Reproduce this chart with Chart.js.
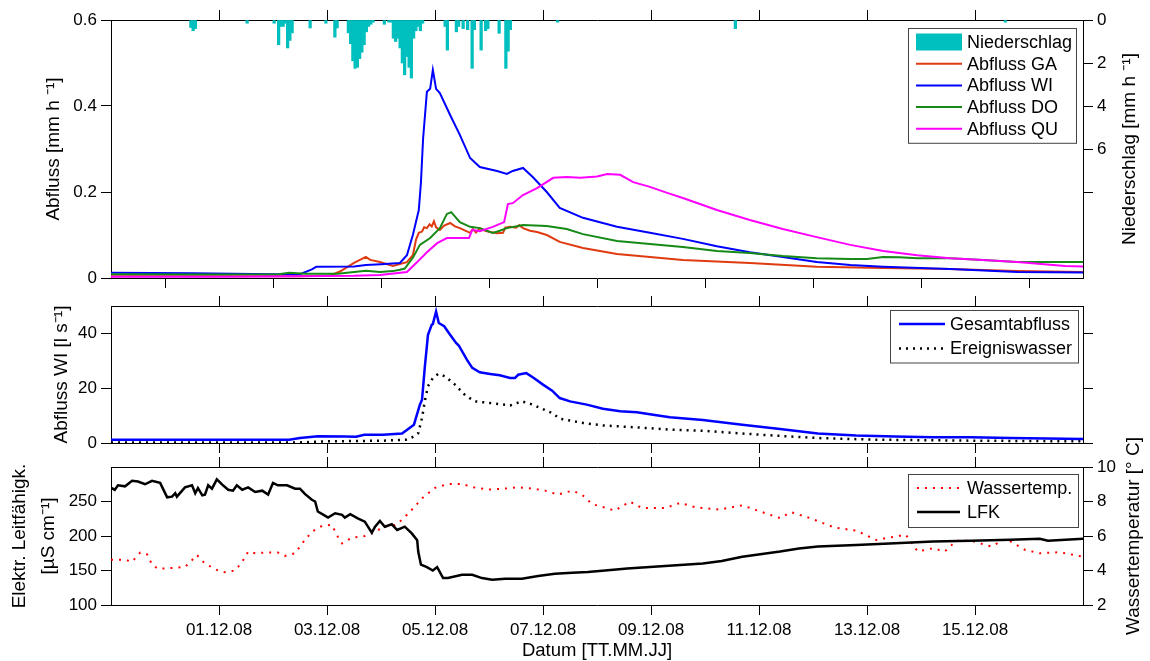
<!DOCTYPE html>
<html>
<head>
<meta charset="utf-8">
<title>Abfluss, Niederschlag und LFK</title>
<script src="https://cdn.jsdelivr.net/npm/chart.js@4.4.0/dist/chart.umd.min.js"></script>
<style>
  html, body { margin: 0; padding: 0; background: #fff; }
  #wrap { position: relative; width: 1150px; height: 661px; }
  #wrap canvas { position: absolute; left: 0; top: 0; }
</style>
</head>
<body>
<div id="wrap">
  <canvas id="abfluss" width="1150" height="661"></canvas>
  <canvas id="wi" width="1150" height="661"></canvas>
  <canvas id="lfk" width="1150" height="661"></canvas>
</div>
<script>
// time axis: days since 29.11.08 00:00
const dateTicks = [2, 4, 6, 8, 10, 12, 14, 16];
const dateLabels = ['01.12.08', '03.12.08', '05.12.08', '07.12.08', '09.12.08', '11.12.08', '13.12.08', '15.12.08'];

// precipitation, hourly [mm/h] (hours since start)
const rainHours = [35, 36, 37, 60, 72, 74, 75, 76, 77, 78, 79, 80, 88, 95, 99, 100, 105, 106, 107, 108,
  109, 110, 111, 112, 113, 114, 115, 116, 121, 123, 124, 125, 126, 127, 128, 129, 130, 131, 132, 133,
  134, 135, 136, 137, 138, 148, 149, 153, 154, 156, 158, 160, 161, 164, 166, 167, 172, 175, 176, 177,
  198, 277, 397];
const rainValues = [0.35, 0.5, 0.4, 0.15, 0.15, 1.15, 0.3, 0.3, 0.15, 1.3, 0.95, 0.6, 0.37, 0.15, 0.8, 0.37, 0.6, 1.1, 1.9, 2.25,
  2.2, 1.8, 1.5, 1.15, 0.55, 0.3, 0.2, 0.1, 0.2, 0.1, 0.1, 0.85, 1.0, 0.85, 1.3, 2.0, 2.55, 1.7, 2.2, 2.7,
  0.85, 0.5, 0.3, 0.5, 0.15, 0.3, 1.4, 0.55, 0.3, 0.4, 0.45, 2.25, 0.45, 1.4, 0.5, 0.4, 0.62, 2.25, 1.45, 0.45,
  0.1, 0.4, 0.1];

// specific discharge [mm/h]
const gaDays = [0, 2.0, 3.5, 4.06, 4.24, 4.5, 4.72, 4.8, 4.98, 5.22, 5.48, 5.59, 5.65, 5.70, 5.76, 5.80, 5.85, 5.90, 5.94, 5.98,
  6.02, 6.09, 6.17, 6.28, 6.37, 6.46, 6.56, 6.65, 6.70, 6.76, 6.83, 6.93, 7.02, 7.15, 7.26, 7.30, 7.39, 7.50, 7.56, 7.63,
  7.76, 7.89, 8.07, 8.31, 8.74, 9.37, 9.98, 10.59, 11.83, 13.07, 14.30, 15.54, 16.78, 18];
const gaValues = [0.004, 0.004, 0.004, 0.006, 0.015, 0.035, 0.049, 0.042, 0.037, 0.028, 0.037, 0.053, 0.09, 0.105, 0.108, 0.118, 0.116, 0.125, 0.12, 0.132,
  0.118, 0.112, 0.122, 0.128, 0.12, 0.116, 0.11, 0.105, 0.114, 0.106, 0.116, 0.11, 0.107, 0.104, 0.105, 0.117, 0.119, 0.117, 0.123, 0.116,
  0.11, 0.107, 0.10, 0.084, 0.07, 0.056, 0.049, 0.042, 0.035, 0.026, 0.023, 0.021, 0.016, 0.014];

const wiDays = [0, 1.5, 3.0, 3.5, 3.72, 3.8, 4.5, 4.72, 5.0, 5.35, 5.48, 5.59, 5.70, 5.74, 5.78, 5.85, 5.91, 5.96, 6.02, 6.09,
  6.28, 6.46, 6.65, 6.83, 7.15, 7.33, 7.44, 7.63, 7.81, 8.07, 8.31, 8.74, 9.37, 9.98, 10.59, 11.22, 11.83, 12.44, 13.07, 13.69,
  14.30, 15.54, 16.78, 18];
const wiValues = [0.012, 0.011, 0.009, 0.009, 0.02, 0.026, 0.027, 0.03, 0.032, 0.035, 0.053, 0.10, 0.158, 0.223, 0.325, 0.433, 0.44, 0.484, 0.44, 0.43,
  0.379, 0.333, 0.279, 0.258, 0.249, 0.242, 0.249, 0.256, 0.235, 0.2, 0.163, 0.14, 0.119, 0.105, 0.091, 0.074, 0.06, 0.049, 0.037, 0.03,
  0.026, 0.021, 0.014, 0.013];

const doDays = [0, 2.0, 3.1, 3.3, 3.6, 4.2, 4.72, 4.98, 5.22, 5.35, 5.44, 5.59, 5.72, 5.91, 6.09, 6.22, 6.3, 6.46, 6.65, 6.83,
  7.07, 7.20, 7.33, 7.63, 8.07, 8.44, 8.74, 9.37, 9.98, 10.59, 11.22, 11.83, 12.44, 13.07, 13.69, 14.0, 14.30, 14.6, 14.93, 15.54,
  16.15, 16.78, 18];
const doValues = [0.009, 0.008, 0.009, 0.012, 0.01, 0.01, 0.017, 0.014, 0.016, 0.019, 0.022, 0.047, 0.077, 0.093, 0.116, 0.149, 0.153, 0.13, 0.119, 0.116,
  0.105, 0.11, 0.116, 0.123, 0.121, 0.114, 0.102, 0.086, 0.079, 0.072, 0.063, 0.058, 0.051, 0.046, 0.044, 0.044, 0.049, 0.048, 0.046, 0.046,
  0.042, 0.037, 0.037];

const quDays = [0, 2.0, 3.5, 4.5, 4.98, 5.48, 5.67, 5.85, 6.04, 6.22, 6.46, 6.63, 6.69, 6.83, 7.07, 7.28, 7.35, 7.44, 7.63, 7.89,
  8.19, 8.44, 8.69, 9.0, 9.19, 9.43, 9.67, 9.98, 10.30, 10.59, 11.22, 11.83, 12.44, 13.07, 13.69, 14.30, 14.93, 15.54, 16.15, 16.78,
  17.67, 18];
const quValues = [0.003, 0.003, 0.004, 0.005, 0.007, 0.014, 0.037, 0.06, 0.081, 0.093, 0.093, 0.093, 0.112, 0.109, 0.119, 0.13, 0.172, 0.174, 0.193, 0.209,
  0.233, 0.235, 0.233, 0.236, 0.242, 0.24, 0.223, 0.212, 0.198, 0.186, 0.158, 0.135, 0.114, 0.095, 0.077, 0.063, 0.053, 0.046, 0.042, 0.037,
  0.028, 0.027];

// WI discharge [l/s]
const gesamtDays = [0, 3.3, 3.5, 3.83, 4.33, 4.54, 4.69, 5.04, 5.39, 5.61, 5.72, 5.76, 5.81, 5.87, 5.94, 5.96, 6.02, 6.07, 6.17, 6.28,
  6.39, 6.44, 6.59, 6.69, 6.83, 7.02, 7.20, 7.39, 7.48, 7.54, 7.69, 7.81, 8.0, 8.17, 8.31, 8.5, 8.81, 9.11, 9.43, 9.74,
  10.04, 10.35, 10.96, 11.69, 12.39, 13.09, 13.80, 14.52, 15.22, 15.93, 16.65, 18];
const gesamtValues = [1.2, 1.2, 1.8, 2.5, 2.4, 2.3, 3.0, 3.0, 3.5, 6.7, 14, 15.8, 27.4, 39.5, 43.2, 43.4, 48, 43.8, 42.6, 39.5,
  36.5, 35.6, 30.4, 27.4, 25.8, 25.2, 24.7, 23.7, 23.7, 24.9, 25.5, 24, 21.3, 19.1, 16.4, 15.2, 14, 12.5, 11.6, 11.2,
  10.3, 9.4, 8.4, 6.7, 5.1, 3.5, 2.7, 2.4, 2.1, 2.1, 1.8, 1.5];

const ereignisDays = [0, 3.5, 3.98, 5.04, 5.46, 5.57, 5.69, 5.76, 5.81, 5.87, 5.96, 6.06, 6.19, 6.37, 6.56, 6.74, 7.02, 7.39, 7.61, 7.81,
  7.98, 8.17, 8.31, 8.74, 9.11, 9.74, 10.35, 11.0, 12.04, 13.09, 14.17, 15.93, 18];
const ereignisValues = [0.2, 0.2, 0.6, 0.85, 1.2, 2.0, 3.6, 9.1, 15.2, 20.7, 23.7, 25.2, 24.3, 21.3, 17.4, 15.2, 14.6, 13.7, 15.2, 14,
  12.5, 10.9, 8.9, 7.3, 6.4, 5.7, 4.9, 4.4, 3.0, 1.8, 1.2, 0.85, 0.6];

// electrical conductivity [µS/cm] and water temperature [°C]
const lfkDays = [0, 0.07, 0.13, 0.26, 0.39, 0.5, 0.63, 0.76, 0.91, 1.04, 1.13, 1.19, 1.22, 1.37, 1.5, 1.56, 1.61, 1.69, 1.74, 1.8,
  1.87, 1.96, 2.06, 2.17, 2.26, 2.33, 2.43, 2.54, 2.67, 2.8, 2.91, 3.0, 3.09, 3.26, 3.41, 3.5, 3.59, 3.72, 3.78, 3.83,
  3.96, 4.02, 4.15, 4.28, 4.33, 4.43, 4.57, 4.7, 4.83, 4.89, 4.98, 5.07, 5.2, 5.3, 5.44, 5.57, 5.67, 5.69, 5.74, 5.85,
  5.96, 6.04, 6.15, 6.24, 6.5, 6.69, 6.87, 7.06, 7.3, 7.61, 7.91, 8.22, 8.54, 8.83, 9.15, 9.56, 10.26, 10.96, 11.31, 11.69,
  12.39, 12.74, 13.09, 13.8, 14.52, 15.22, 15.93, 16.65, 17.2, 17.35, 18];
const lfkValues = [270, 267, 273.5, 272, 280, 279, 275, 280, 277, 256, 257, 262, 257, 270.5, 273.5, 262, 269.6, 259, 260, 273.5,
  268.6, 282, 274.5, 267, 265.7, 273.5, 267, 270.5, 263.7, 265.7, 260, 277, 273.5, 273.5, 268.6, 268.6, 261, 252.5, 250, 235.5,
  229.6, 226.7, 233, 230.6, 226.7, 231.6, 225.7, 220.8, 204.8, 213.5, 221.8, 213.5, 217, 208.7, 213.5, 203.8, 194, 177, 158.5, 155,
  150, 155, 139, 139, 143.9, 143.9, 139, 136.5, 138, 138, 142, 145.3, 146.8, 147.8, 150, 153, 156.4, 160, 163.7, 170,
  177.4, 182, 184.7, 187, 189.5, 192, 193, 194.4, 196, 193, 196];

const tempDays = [0, 0.26, 0.39, 0.54, 0.67, 0.76, 0.87, 1.13, 1.37, 1.5, 1.59, 1.74, 1.98, 2.11, 2.3, 2.43, 2.54, 2.67, 2.85, 3.09,
  3.22, 3.41, 3.54, 3.72, 3.91, 4.09, 4.2, 4.28, 4.46, 4.7, 4.83, 5.07, 5.26, 5.39, 5.57, 5.78, 6.0, 6.24, 6.5, 6.69,
  6.98, 7.3, 7.54, 7.8, 8.04, 8.28, 8.54, 8.72, 8.91, 9.09, 9.33, 9.61, 9.83, 10.26, 10.54, 10.83, 11.26, 11.69, 12.11, 12.39,
  12.59, 12.94, 13.39, 13.81, 14.17, 14.52, 14.72, 14.94, 15.22, 15.44, 15.65, 15.93, 16.3, 16.57, 16.93, 17.2, 17.57, 18];
const tempValues = [4.63, 4.63, 4.5, 5.04, 4.93, 4.34, 4.1, 4.15, 4.2, 4.6, 4.9, 4.4, 4.0, 3.9, 4.0, 4.5, 5.1, 5.0, 5.04, 5.04,
  4.85, 5.0, 5.57, 6.25, 6.6, 6.64, 5.96, 5.57, 5.9, 6.0, 6.16, 6.55, 6.64, 6.94, 7.52, 8.24, 8.79, 9.02, 9.02, 8.83,
  8.69, 8.75, 8.83, 8.75, 8.63, 8.4, 8.63, 8.4, 7.85, 7.7, 7.47, 8.0, 7.62, 7.62, 7.92, 7.66, 7.53, 7.78, 7.33, 7.04,
  7.39, 7.04, 6.5, 6.3, 5.77, 5.97, 6.07, 5.1, 5.29, 5.1, 5.72, 5.72, 5.39, 5.83, 5.19, 5.0, 5.06, 4.8];

// axis ticks
const abflussTicks = [0, 0.2, 0.4, 0.6];
const abflussTickLabels = ['0', '0.2', '0.4', '0.6'];
const rainTicks = [0, 2, 4, 6, 8];
const rainTickLabels = ['0', '2', '4', '6', ''];
const wiTicks = [0, 20, 40];
const wiTickLabels = ['0', '20', '40'];
const lfkTicks = [100, 150, 200, 250];
const lfkTickLabels = ['100', '150', '200', '250'];
const tempTicks = [2, 4, 6, 8, 10];
const tempTickLabels = ['2', '4', '6', '8', '10'];

const FONT = '"Liberation Sans", Arial, Helvetica, sans-serif';
Chart.defaults.font.family = FONT;
Chart.defaults.color = '#000';

const tickFont = { family: FONT, size: 17 };
const titleFont = { family: FONT, size: 19 };

function pts(days, values) {
  return days.map((d, i) => ({ x: d, y: values[i] }));
}

// legend box drawn inside the plot area, upper right
const boxLegend = {
  id: 'boxLegend',
  afterDatasetsDraw(chart, args, opts) {
    const ctx = chart.ctx;
    const area = chart.chartArea;
    const sets = chart.data.datasets;
    const left = area.right - opts.right - opts.width;
    const top = area.top + opts.top;
    const h = opts.firstRow * 2 + opts.rowGap * (sets.length - 1);
    ctx.save();
    ctx.fillStyle = '#fff';
    ctx.fillRect(left, top, opts.width, h);
    ctx.strokeStyle = '#444';
    ctx.lineWidth = 1;
    ctx.strokeRect(Math.round(left) + 0.5, Math.round(top) + 0.5, opts.width, h);
    ctx.font = '18px ' + FONT;
    ctx.textBaseline = 'middle';
    sets.forEach((ds, i) => {
      const y = top + opts.firstRow + i * opts.rowGap;
      const x0 = left + opts.pad;
      const x1 = x0 + opts.sample;
      if (ds.type === 'bar') {
        ctx.fillStyle = ds.backgroundColor;
        ctx.fillRect(x0, y - 8.5, opts.sample, 17);
      } else {
        ctx.strokeStyle = ds.borderColor;
        ctx.lineWidth = ds.borderWidth;
        ctx.setLineDash(ds.borderDash || []);
        ctx.beginPath();
        ctx.moveTo(x0, y);
        ctx.lineTo(x1, y);
        ctx.stroke();
        ctx.setLineDash([]);
      }
      ctx.fillStyle = '#000';
      ctx.fillText(ds.label, x1 + opts.gap, y + 1);
    });
    ctx.restore();
  }
};

// right-hand axis title, read bottom to top like the left one
const rightTitle = {
  id: 'rightTitle',
  afterDraw(chart, args, opts) {
    const ctx = chart.ctx;
    const area = chart.chartArea;
    ctx.save();
    ctx.translate(opts.x, (area.top + area.bottom) / 2);
    ctx.rotate(-Math.PI / 2);
    ctx.font = '19px ' + FONT;
    ctx.fillStyle = '#000';
    ctx.textAlign = 'center';
    ctx.textBaseline = 'middle';
    ctx.fillText(opts.text, 0, 0);
    ctx.restore();
  }
};

function xAxis(position, height, labels, title) {
  return {
    type: 'linear', position: position, min: 0, max: 18, offset: false,
    afterBuildTicks: s => { s.ticks = dateTicks.map(v => ({ value: v })); },
    afterFit: s => { s.height = height; },
    grid: { drawOnChartArea: false, drawTicks: true, tickLength: 10, tickColor: '#000', tickWidth: 1 },
    border: { display: true, color: '#000', width: 1 },
    ticks: {
      autoSkip: false, maxRotation: 0, font: tickFont, color: '#000', padding: 5,
      callback: (v, i) => labels ? dateLabels[i] : ''
    },
    title: title || { display: false }
  };
}

function yAxis(position, min, max, ticks, labels, width, title, reverse) {
  return {
    type: 'linear', position: position, min: min, max: max, reverse: !!reverse,
    afterBuildTicks: s => { s.ticks = ticks.map(v => ({ value: v })); },
    afterFit: s => { s.width = width; },
    grid: { drawOnChartArea: false, drawTicks: true, tickLength: 10, tickColor: '#000', tickWidth: 1 },
    border: { display: true, color: '#000', width: 1 },
    ticks: {
      font: tickFont, color: '#000', padding: 4,
      callback: (v, i) => labels ? labels[i] : ''
    },
    title: title || { display: false }
  };
}

function baseOptions(padTop, padBottom) {
  return {
    responsive: false,
    animation: false,
    devicePixelRatio: 1,
    events: [],
    layout: { padding: { top: padTop, bottom: padBottom, left: 0, right: 0 } },
    plugins: { legend: { display: false }, tooltip: { enabled: false } }
  };
}

function line(label, data, color, width, yAxisID, order, dash) {
  return {
    type: 'line', label: label, data: data, borderColor: color, borderWidth: width,
    borderDash: dash || [], borderCapStyle: 'butt', yAxisID: yAxisID, order: order,
    pointRadius: 0, tension: 0, fill: false
  };
}

// panel 1: specific discharge and precipitation
const opt1 = baseOptions(0, 369);
opt1.scales = {
  x: xAxis('bottom', 14, false),
  xTop: xAxis('top', 20, false),
  y: yAxis('left', 0, 0.6, abflussTicks, abflussTickLabels, 111,
    { display: true, text: 'Abfluss [mm h ⁻¹]', font: titleFont, color: '#000', padding: { top: 42, bottom: 0 } }),
  rain: yAxis('right', 0, 12, rainTicks, rainTickLabels, 67, null, true)
};
opt1.plugins.boxLegend = { right: 7, top: 8, width: 168, firstRow: 14, rowGap: 21.7, pad: 8, sample: 46, gap: 5 };
opt1.plugins.rightTitle = { text: 'Niederschlag [mm h ⁻¹]', x: 1130 };

new Chart(document.getElementById('abfluss'), {
  type: 'line',
  data: {
    datasets: [
      {
        type: 'bar', label: 'Niederschlag', yAxisID: 'rain', order: 5,
        data: rainHours.map((h, i) => ({ x: (h + 0.5) / 24, y: rainValues[i] })),
        backgroundColor: '#00bfbf', borderWidth: 0, barThickness: 2.6
      },
      line('Abfluss GA', pts(gaDays, gaValues), '#e03a10', 2, 'y', 4),
      line('Abfluss WI', pts(wiDays, wiValues), '#0000ff', 2, 'y', 3),
      line('Abfluss DO', pts(doDays, doValues), '#168a16', 2, 'y', 2),
      line('Abfluss QU', pts(quDays, quValues), '#ff00ff', 2, 'y', 1)
    ]
  },
  options: opt1,
  plugins: [boxLegend, rightTitle]
});

// panel 2: total discharge and event water at WI
const opt2 = baseOptions(292, 204);
opt2.scales = {
  x: xAxis('bottom', 14, false),
  xTop: xAxis('top', 14, false),
  y: yAxis('left', 0, 50, wiTicks, wiTickLabels, 111,
    { display: true, text: 'Abfluss WI [l s⁻¹]', font: titleFont, color: '#000', padding: { top: 50, bottom: 0 } }),
  yRight: yAxis('right', 0, 50, wiTicks, null, 67)
};
opt2.plugins.boxLegend = { right: 5, top: 4, width: 188, firstRow: 14, rowGap: 24.5, pad: 9, sample: 46, gap: 5 };

new Chart(document.getElementById('wi'), {
  type: 'line',
  data: {
    datasets: [
      line('Gesamtabfluss', pts(gesamtDays, gesamtValues), '#0000ff', 2.5, 'y', 1),
      line('Ereigniswasser', pts(ereignisDays, ereignisValues), '#000', 2.5, 'y', 2, [2, 5])
    ]
  },
  options: opt2,
  plugins: [boxLegend]
});

// panel 3: electrical conductivity and water temperature
const opt3 = baseOptions(455, 0);
opt3.scales = {
  x: xAxis('bottom', 56, true,
    { display: true, text: 'Datum [TT.MM.JJ]', font: { family: FONT, size: 18.5, lineHeight: 1 }, color: '#000', padding: { top: 0, bottom: 1 } }),
  xTop: xAxis('top', 12, false),
  y: yAxis('left', 100, 300, lfkTicks, lfkTickLabels, 111,
    { display: true, text: ['Elektr. Leitfähigk.', '[µS cm⁻¹]'], font: { family: FONT, size: 19, lineHeight: 1.55 }, color: '#000', padding: { top: 5, bottom: 0 } }),
  temp: yAxis('right', 2, 10, tempTicks, tempTickLabels, 67)
};
opt3.plugins.boxLegend = { right: 5, top: 6.5, width: 170, firstRow: 14.5, rowGap: 24, pad: 9, sample: 43, gap: 7 };
opt3.plugins.rightTitle = { text: 'Wassertemperatur [° C]', x: 1134 };

new Chart(document.getElementById('lfk'), {
  type: 'line',
  data: {
    datasets: [
      line('Wassertemp.', pts(tempDays, tempValues), '#ff0000', 2, 'temp', 2, [2, 6]),
      line('LFK', pts(lfkDays, lfkValues), '#000', 2.5, 'y', 1)
    ]
  },
  options: opt3,
  plugins: [boxLegend, rightTitle]
});
</script>
</body>
</html>
